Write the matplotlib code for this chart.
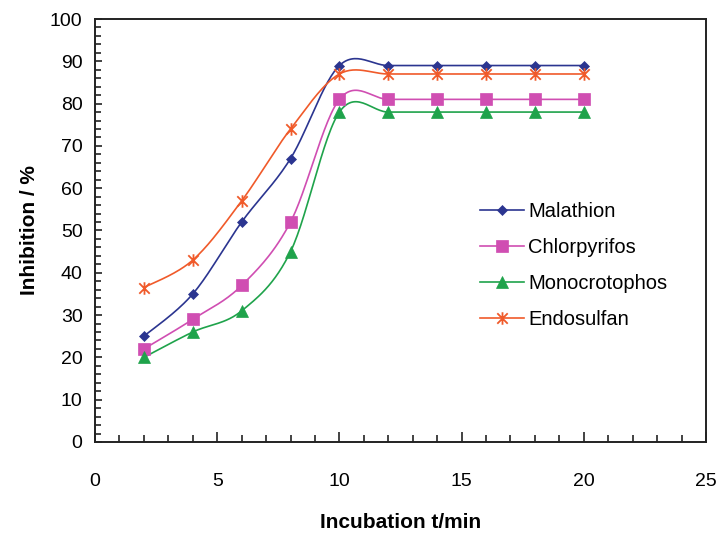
import numpy as np
import matplotlib
matplotlib.use("Agg")
import matplotlib.pyplot as plt
from matplotlib.path import Path
from matplotlib.ticker import MultipleLocator

plt.rcParams['font.family'] = ['Liberation Sans', 'DejaVu Sans']

# Data
time_min = [2, 4, 6, 8, 10, 12, 14, 16, 18, 20]
malathion = [25, 35, 52, 67, 89, 89, 89, 89, 89, 89]
chlorpyrifos = [22, 29, 37, 52, 81, 81, 81, 81, 81, 81]
monocrotophos = [20, 26, 31, 45, 78, 78, 78, 78, 78, 78]
endosulfan = [36.5, 43, 57, 74, 87, 87, 87, 87, 87, 87]

names = ["Malathion", "Chlorpyrifos", "Monocrotophos", "Endosulfan"]
colors = ["#2B3590", "#D04EB2", "#1FA34B", "#F05A2A"]

# Excel-like asterisk: X plus a vertical bar
star_path = Path(
    [(-1, -1), (1, 1), (-1, 1), (1, -1), (0, -1.2), (0, 1.2)],
    [Path.MOVETO, Path.LINETO, Path.MOVETO, Path.LINETO, Path.MOVETO, Path.LINETO],
)
markers = ["D", "s", "^", star_path]
msizes = [5, 8, 8, 9]


def smooth_line(x, y, n=30):
    # Catmull-Rom style bezier smoothing (like Excel "smoothed line")
    x = np.asarray(x, float)
    y = np.asarray(y, float)
    px = np.concatenate([[x[0]], x, [x[-1]]])
    py = np.concatenate([[y[0]], y, [y[-1]]])
    xs, ys = [], []
    t = np.linspace(0, 1, n)
    for i in range(1, len(px) - 2):
        p0 = np.array([px[i], py[i]])
        p3 = np.array([px[i + 1], py[i + 1]])
        c1 = p0 + (np.array([px[i + 1], py[i + 1]]) - np.array([px[i - 1], py[i - 1]])) / 6
        c2 = p3 - (np.array([px[i + 2], py[i + 2]]) - np.array([px[i], py[i]])) / 6
        b = ((1 - t) ** 3)[:, None] * p0 + (3 * (1 - t) ** 2 * t)[:, None] * c1 \
            + (3 * (1 - t) * t ** 2)[:, None] * c2 + (t ** 3)[:, None] * p3
        xs.extend(b[:, 0])
        ys.extend(b[:, 1])
    return np.array(xs), np.array(ys)


fig = plt.figure(figsize=(7.17, 5.34), dpi=100)
ax = fig.add_axes([95 / 717, 1 - 442 / 534, 611 / 717, 423 / 534])

series = [malathion, chlorpyrifos, monocrotophos, endosulfan]
for name, vals, c, m, ms in zip(names, series, colors, markers, msizes):
    mew = 1.3 if m is star_path else 0.5
    sx, sy = smooth_line(time_min, vals)
    ax.plot(sx, sy, color=c, lw=1.2, zorder=2)
    ax.plot(time_min, vals, linestyle="none", marker=m, color=c, markersize=ms,
            markeredgewidth=mew, zorder=3)
    ax.plot([], [], color=c, lw=1.2, marker=m, markersize=ms,
            markeredgewidth=mew, label=name)

ax.set_xlim(0, 25)
ax.set_ylim(0, 100)
ax.xaxis.set_major_locator(MultipleLocator(5))
ax.xaxis.set_minor_locator(MultipleLocator(1))
ax.yaxis.set_major_locator(MultipleLocator(10))
ax.yaxis.set_minor_locator(MultipleLocator(2))
ax.tick_params(axis="both", which="both", direction="in", color="#222222")
ax.tick_params(axis="x", which="major", length=7, width=1.2, pad=22, labelsize=14)
ax.tick_params(axis="x", which="minor", length=5, width=1.2)
ax.tick_params(axis="y", which="major", length=5, width=1.2, pad=9, labelsize=14)
ax.tick_params(axis="y", which="minor", length=4, width=1.2)
for sp in ax.spines.values():
    sp.set_linewidth(1.4)
    sp.set_color("#222222")

ax.set_xlabel("Incubation t/min", fontsize=15, fontweight="bold", labelpad=17)
ax.set_ylabel("Inhibition / %", fontsize=15, fontweight="bold", labelpad=8)

ax.legend(loc="upper left", bbox_to_anchor=(0.6, 0.61), frameon=False, fontsize=14.5,
          handlelength=2.2, handletextpad=0.2, labelspacing=0.85)

fig.savefig("out.png", dpi=100)
